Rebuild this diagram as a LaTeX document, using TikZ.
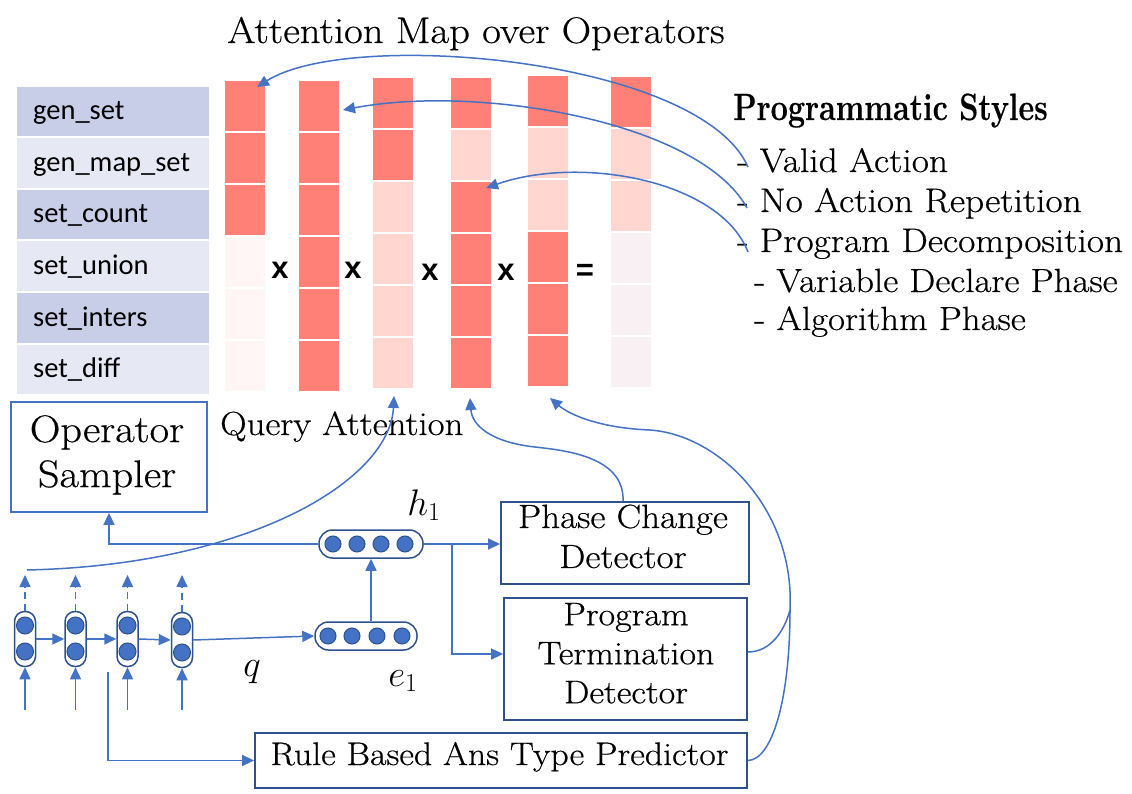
\RequirePackage{fix-cm}
\documentclass[tikz,border=0pt]{standalone}
\usepackage{fontspec}
\usepackage{graphicx}
\setmainfont{Latin Modern Roman}[FakeStretch=1.1,FakeBold=0.5]
\newfontfamily\calib{Carlito}
\newfontfamily\arialb{Liberation Sans}
\usetikzlibrary{arrows.meta}
\definecolor{cblue}{RGB}{68,114,196}
\definecolor{cnavy}{RGB}{47,82,143}
\definecolor{hd}{RGB}{255,128,118}
\definecolor{hl}{RGB}{255,214,208}
\definecolor{hv}{RGB}{255,246,245}
\definecolor{hg}{RGB}{249,240,243}
\definecolor{rowd}{RGB}{201,206,232}
\definecolor{rowl}{RGB}{230,232,244}
\tikzset{
  bline/.style={draw=cblue, line width=1.5pt},
  arr/.style={bline, -{Triangle[length=12pt,width=11pt]}},
  nbox/.style={draw=cnavy, line width=1.8pt, rectangle, inner sep=0pt},
  bbox/.style={draw=cblue, line width=1.8pt, rectangle, inner sep=0pt},
  txt/.style={inner sep=0pt, text=black},
  enccap/.style={draw=cnavy, fill=white, line width=1.5pt, rectangle, rounded corners=10pt, minimum width=21pt, minimum height=55pt, inner sep=0pt},
  vecbox/.style={draw=cnavy, fill=white, line width=1.5pt, rectangle, rounded corners=13.5pt, minimum height=28pt, inner sep=0pt},
  blob/.style={circle, fill=cblue, draw=cnavy, line width=1pt, minimum size=16pt, inner sep=0pt},
  lab/.style={inner sep=0pt, anchor=base west, font=\calib\fontsize{28.5}{34}\selectfont},
  opsym/.style={inner sep=0pt, font=\arialb\bfseries\fontsize{31}{36}\selectfont},
  mlab/.style={inner sep=0pt, font=\fontsize{37}{44}\selectfont},
}
\begin{document}
\begin{tikzpicture}[x=1pt,y=-1pt]
\useasboundingbox (0,0) rectangle (1132,794);

% operator table
\foreach \i/\cc/\lab in {0/rowd/gen\_set,1/rowl/gen\_map\_set,2/rowd/set\_count,3/rowl/set\_union,4/rowd/set\_inters,5/rowl/set\_diff}{
  \fill[\cc] (17,{87+51.5*\i}) rectangle ++(192,49.5);
  \node[lab] (lab\i) at (33,{120+51.5*\i}) {\lab};
}

% attention columns
\foreach \cx/\ty/\cols in {225/81/{hd,hd,hd,hv,hv,hv},299/81/{hd,hd,hd,hd,hd,hd},373/78/{hd,hd,hl,hl,hl,hl},451/78/{hd,hl,hd,hd,hd,hd},528/76/{hd,hl,hl,hd,hd,hd},611/77/{hd,hl,hl,hg,hg,hg}}{
  \foreach \cc [count=\j from 0] in \cols {
    \fill[\cc] (\cx,{\ty+52*\j}) rectangle ++(40,50);
  }
}

% operators
\node[opsym] (m1) at (280,270) {x};
\node[opsym] (m2) at (353,270) {x};
\node[opsym] (m3) at (430,272) {x};
\node[opsym] (m4) at (506,272) {x};
\node[opsym] (m5) at (585,272) {=};

% texts
\node[txt, anchor=base, font=\fontsize{37}{44}\selectfont] (title) at (476,43) {Attention Map over Operators};
\node[txt, anchor=base west] (ps) at (733,120) {\scalebox{0.73}[1]{\bfseries\fontsize{38}{44}\selectfont Programmatic Styles}};
\node[txt, anchor=base west, font=\fontsize{34}{40}\selectfont] (i1) at (737,172) {- Valid Action};
\node[txt, anchor=base west, font=\fontsize{34}{40}\selectfont] (i2) at (737,212) {- No Action Repetition};
\node[txt, anchor=base west, font=\fontsize{34}{40}\selectfont] (i3) at (737,252) {- Program Decomposition};
\node[txt, anchor=base west, font=\fontsize{33.5}{40}\selectfont] (i4) at (754,292) {- Variable Declare Phase};
\node[txt, anchor=base west, font=\fontsize{33.5}{40}\selectfont] (i5) at (754,330) {- Algorithm Phase};
\node[txt, anchor=base west, font=\fontsize{33.4}{40}\selectfont] (qatt) at (220,435) {Query Attention};

\node[mlab] (h1l) at (424,505) {$h_1$};
\node[mlab] (e1l) at (403,681) {$e_1$};
\node[mlab] (ql) at (252,672) {$q$};

% boxes
\node[bbox, minimum width=196, minimum height=110] (os) at (109,457) {};
\node[txt, anchor=north, align=center, font=\fontsize{38.5}{45}\selectfont] (ost) at (107,415) {Operator\\Sampler};
\node[nbox, minimum width=248, minimum height=82] (pcd) at (625,543) {};
\node[txt, anchor=north, align=center, font=\fontsize{33.6}{40}\selectfont] (pcdt) at (623,504.3) {Phase Change\\Detector};
\node[nbox, minimum width=243, minimum height=122] (ptd) at (625.5,659) {};
\node[txt, anchor=north, align=center, font=\fontsize{32.7}{39}\selectfont] (ptdt) at (626,602.7) {Program\\Termination\\Detector};
\node[nbox, minimum width=492, minimum height=55] (rule) at (501,760.5) {};
\node[txt, anchor=base, font=\fontsize{32.6}{39}\selectfont] (rulet) at (499.5,765) {Rule Based Ans Type Predictor};

% vectors
\node[vecbox, minimum width=104] (h1) at (371,544) {};
\foreach \xx [count=\k] in {333,357,381,405} \node[blob] (hdot\k) at (\xx,544) {};
\node[vecbox, minimum width=102] (e1) at (366,636) {};
\foreach \xx [count=\k] in {328,352,377,402} \node[blob] (edot\k) at (\xx,636) {};

% encoder cells
\foreach \xx/\yy [count=\k] in {25/639,75.5/639,127.5/639,182/640} {
  \node[enccap] (c\k) at (\xx,\yy) {};
  \node[blob, minimum size=17] (ca\k) at (\xx,{\yy-13.5}) {};
  \node[blob, minimum size=17] (cb\k) at (\xx,{\yy+12.5}) {};
  \coordinate (up\k) at (\xx,575);
  \draw[arr, dash pattern=on 7pt off 5pt] (c\k.north) -- (up\k);
  \coordinate (in\k) at (\xx,710);
  \draw[arr] (in\k) -- (c\k.south);
}
\draw[arr] (c1.east) -- (c2.west);
\draw[arr] (c2.east) -- (c3.west);
\draw[arr] (c3.east) -- (c4.west);
\draw[arr] (c4.east) -- (e1.west);

\coordinate (eup) at ([xshift=5pt]e1.north);
\draw[arr] (eup) -- (eup |- h1.south);
\draw[arr] (h1.west) -| (os.south);
\draw[arr] (h1.east) -- (h1.east -| pcd.west);
\coordinate (br) at (452,544);
\draw[arr] (br) |- ([yshift=5pt]ptd.west);
\coordinate (ra) at (108,672);
\draw[arr] (ra) |- (rule.west);

% curves to attention columns
\coordinate (qs) at (27,570);
\coordinate (col3b) at (394,396);
\draw[arr] (qs) .. controls (250,565) and (390,480) .. (col3b);
\coordinate (col4b) at (470,398);
\draw[arr] ([xshift=-2pt]pcd.north) .. controls (625,455) and (560,450) .. (535,447) .. controls (490,442) and (472,425) .. (col4b);
\coordinate (jn) at (790,610);
\coordinate (col5b) at (550,398);
\draw[bline] (rule.east) .. controls (772,760) and (790,700) .. (jn);
\draw[bline] ([yshift=7pt]ptd.east) .. controls (770,652) and (784,632) .. (jn);
\draw[arr] (jn) .. controls (795,510) and (720,435) .. (650,430) .. controls (600,428) and (570,415) .. (col5b);

\coordinate (s1) at (748,167); \coordinate (t1) at (257,87);
\draw[arr] (s1) .. controls (700,58) and (350,28) .. (t1);
\coordinate (s2) at (747,208); \coordinate (t2) at (343,110);
\draw[arr] (s2) .. controls (700,122) and (480,84) .. (t2);
\coordinate (s3) at (748,252); \coordinate (t3) at (486,188);
\draw[arr] (s3) .. controls (720,180) and (580,155) .. (t3);
\end{tikzpicture}
\end{document}
